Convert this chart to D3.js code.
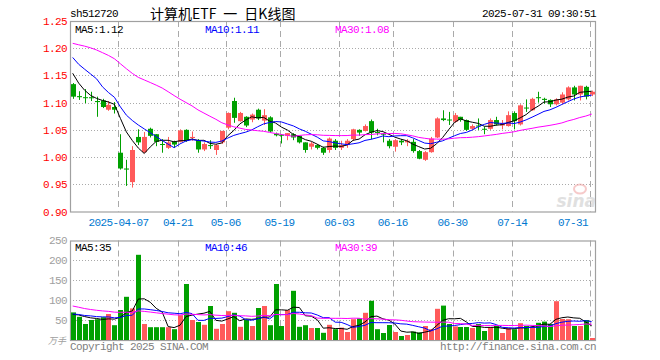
<!DOCTYPE html>
<html><head><meta charset="utf-8">
<script src="https://cdn.jsdelivr.net/npm/d3@7"></script>
<style>body{margin:0;background:#fff}svg{display:block}</style>
</head><body><svg id="c" width="660" height="360"></svg>
<script>
// ---------------- data ----------------
const dates = ["03-25","03-26","03-27","03-28","03-31","04-01","04-02","04-03","04-07","04-08",
"04-09","04-10","04-11","04-14","04-15","04-16","04-17","04-18","04-21","04-22",
"04-23","04-24","04-25","04-28","04-29","04-30","05-06","05-07","05-08","05-09",
"05-12","05-13","05-14","05-15","05-16","05-19","05-20","05-21","05-22","05-23",
"05-26","05-27","05-28","05-29","05-30","06-03","06-04","06-05","06-06","06-09",
"06-10","06-11","06-12","06-13","06-16","06-17","06-18","06-19","06-20","06-23",
"06-24","06-25","06-26","06-27","06-30","07-01","07-02","07-03","07-04","07-07",
"07-08","07-09","07-10","07-11","07-14","07-15","07-16","07-17","07-18","07-21",
"07-22","07-23","07-24","07-25","07-28","07-29","07-30","07-31"];
const open = [1.134,1.112,1.110,1.110,1.103,1.104,1.087,1.092,1.008,0.979,
0.954,1.037,1.009,1.052,1.042,1.024,1.017,1.028,1.028,1.050,
1.035,1.031,1.014,1.022,1.013,1.027,1.054,1.103,1.066,1.074,
1.069,1.087,1.067,1.073,1.043,1.041,1.039,1.042,1.039,1.027,
1.019,1.022,1.017,1.013,1.030,1.017,1.022,1.033,1.050,1.048,
1.066,1.046,1.043,1.030,1.019,1.030,1.027,1.028,1.011,0.995,
1.009,1.036,1.071,1.069,1.065,1.074,1.068,1.052,1.058,1.052,
1.052,1.068,1.058,1.057,1.081,1.060,1.091,1.086,1.110,1.107,
1.105,1.097,1.100,1.106,1.128,1.115,1.129,1.115];
const high = [1.136,1.121,1.125,1.120,1.111,1.107,1.103,1.101,1.042,0.995,
1.020,1.051,1.046,1.054,1.042,1.033,1.037,1.030,1.051,1.051,
1.047,1.033,1.027,1.031,1.024,1.048,1.082,1.109,1.083,1.075,
1.080,1.089,1.088,1.075,1.045,1.042,1.044,1.044,1.039,1.027,
1.028,1.024,1.019,1.036,1.033,1.030,1.033,1.052,1.051,1.060,
1.069,1.052,1.044,1.033,1.033,1.033,1.033,1.033,1.013,1.011,
1.037,1.073,1.086,1.083,1.081,1.074,1.069,1.060,1.071,1.056,
1.071,1.074,1.068,1.084,1.084,1.097,1.106,1.109,1.120,1.109,
1.106,1.108,1.119,1.130,1.131,1.131,1.131,1.122];
const low = [1.107,1.105,1.099,1.103,1.074,1.090,1.085,1.080,0.977,0.947,
0.944,1.022,1.007,1.036,1.020,1.008,1.015,1.017,1.027,1.028,
1.030,1.008,1.011,1.015,1.004,1.024,1.051,1.063,1.065,1.055,
1.064,1.068,1.059,1.045,1.038,1.025,1.031,1.031,1.025,1.008,
1.014,1.014,1.004,1.008,1.013,1.013,1.017,1.030,1.039,1.047,
1.033,1.040,1.027,1.016,1.010,1.022,1.020,1.008,0.996,0.993,
1.008,1.035,1.066,1.059,1.063,1.065,1.048,1.050,1.050,1.042,
1.050,1.058,1.051,1.056,1.051,1.058,1.083,1.085,1.100,1.098,
1.092,1.095,1.097,1.104,1.104,1.104,1.106,1.112];
const close = [1.111,1.110,1.109,1.108,1.101,1.092,1.096,1.087,0.979,0.977,
1.013,1.027,1.037,1.039,1.028,1.023,1.027,1.023,1.049,1.030,
1.037,1.014,1.024,1.021,1.022,1.048,1.081,1.072,1.081,1.058,
1.078,1.071,1.077,1.047,1.040,1.040,1.044,1.036,1.027,1.013,
1.025,1.017,1.008,1.034,1.017,1.022,1.030,1.051,1.045,1.057,
1.045,1.045,1.042,1.020,1.031,1.027,1.030,1.011,0.997,1.009,
1.034,1.071,1.068,1.068,1.077,1.068,1.050,1.057,1.057,1.051,
1.068,1.060,1.062,1.077,1.066,1.095,1.090,1.107,1.109,1.105,
1.097,1.106,1.115,1.128,1.115,1.131,1.111,1.120];
// volume, 万手
const volume = [69,58,40,50,52,57,65,37,75,108,
79,213,40,32,32,32,32,27,62,140,
50,45,38,85,28,40,72,68,33,50,
35,80,85,37,140,35,75,123,33,37,
30,30,18,38,27,31,20,52,54,68,
98,27,17.5,37.5,20,10,12.5,21,19,35,
27,78,86,40,34,32.5,32.5,30,40,22.5,
32.5,35,17.5,30,27,42,35,32.5,43,46,
40,97,52.5,52,35,35,50,5];
// sessions before the visible window (estimated from where the MA lines start)
const priorClose = [1.190,1.185,1.200,1.220,1.240,1.250,1.270,1.255,1.250,1.270,
1.245,1.180,1.180,1.175,1.180,1.230,1.235,1.250,1.215,1.220,
1.235,1.200,1.195,1.190,1.240,1.200,1.175,1.155,1.129];
const priorVolume = [150,140,120,110,105,100,95,90,100,95,
90,85,80,90,85,80,75,80,65,65,
70,65,60,70,65,65,60,66,60];
const priceTicks = [1.25,1.20,1.15,1.10,1.05,1.00,0.95,0.90];
const volTicks = [250,200,150,100,50];
const axisDates = ["04-07","04-21","05-06","05-19","06-03","06-16","06-30","07-14","07-31"];
const axisLabels = ["2025-04-07","04-21","05-06","05-19","06-03","06-16","06-30","07-14","07-31"];
const maPeriods = [5,10,30];
const maColors = ["#000000","#0000ff","#ff00ff"];

// ---------------- chart ----------------
const svg = d3.select("#c");
const mono = "'Liberation Mono','DejaVu Sans Mono',monospace";
const L = 70, R = 595;
const x = d3.scaleBand().domain(dates).range([69.7, 594.7]).padding(0);
const xc = d => x(d) + x.bandwidth()/2;
const y = d3.scaleLinear().domain([0.90,1.25]).range([211.5,21]);
const yv = d3.scaleLinear().domain([0,250]).range([340,240]);
const RED = "#ff5a5a", GREEN = "#00a000";

function ma(series, prior, n){
  const all = prior.concat(series), off = prior.length;
  return series.map((_,i)=>d3.mean(all.slice(i+off-n+1, i+off+1)));
}
function t(xp, yp, s, fill, size, anchor, fam){
  return svg.append("text").attr("x",xp).attr("y",yp).text(s)
    .attr("fill",fill).attr("font-size",size).attr("font-family",fam||mono)
    .attr("text-anchor",anchor||"start");
}

// header
t(70,17,"sh512720","#000",11).attr("letter-spacing","-0.6");
t(150,19,"计算机ETF\u2002一\u2002日K线图","#000",14,"start","'Noto Sans CJK SC',sans-serif");
t(596,17,"2025-07-31 09:30:51","#000",11,"end").attr("letter-spacing","-0.6");

// grids
function grid(top, bottom, hVals, yscale){
  const g = svg.append("g");
  g.selectAll("line.h").data(hVals).join("line")
    .attr("x1",L).attr("x2",R).attr("y1",d=>Math.round(yscale(d))+0.5).attr("y2",d=>Math.round(yscale(d))+0.5)
    .attr("stroke","#aaa").attr("stroke-dasharray","1,2");
  g.selectAll("line.v").data(axisDates).join("line")
    .attr("x1",d=>Math.round(x(d)+1)+0.5).attr("x2",d=>Math.round(x(d)+1)+0.5)
    .attr("y1",top).attr("y2",bottom)
    .attr("stroke","#aaa").attr("stroke-dasharray","6,4");
  g.append("rect").attr("x",L+0.5).attr("y",top+0.5).attr("width",R-L).attr("height",bottom-top)
    .attr("fill","none").attr("stroke","#a0a0a0").attr("stroke-width",1.2);
}
grid(21, 211.5, priceTicks.slice(1,-1), y);
grid(240.5, 340, volTicks.slice(1), yv);

// watermark
const wm = svg.append("g").attr("opacity",0.55);
wm.append("ellipse").attr("cx",580).attr("cy",189).attr("rx",6).attr("ry",4.5).attr("fill","none").attr("stroke","#f0a0a0").attr("stroke-width",2);
wm.append("text").attr("x",596).attr("y",207).attr("text-anchor","end").attr("font-size",17).attr("font-style","italic").attr("font-weight","bold").attr("font-family","'DejaVu Sans',sans-serif").attr("fill","#c8c8c8").text("sina");

// price axis labels
const ya = svg.append("g").attr("transform",`translate(${L},0)`)
  .call(d3.axisLeft(y).tickValues(priceTicks).tickFormat(d3.format(".2f")).tickSize(0).tickPadding(3));
ya.select(".domain").remove();
ya.selectAll("text").attr("fill","#ff0000").attr("font-family",mono).attr("font-size",11).attr("letter-spacing","-0.6");

// volume axis labels
const va = svg.append("g").attr("transform",`translate(${L},0)`)
  .call(d3.axisLeft(yv).tickValues(volTicks).tickFormat(d3.format("d")).tickSize(0).tickPadding(3));
va.select(".domain").remove();
va.selectAll("text").attr("fill","#a0a0a0").attr("font-family",mono).attr("font-size",11).attr("letter-spacing","-0.6");
t(66,344,"万手","#a0a0a0",9,"end","'Noto Sans CJK SC',sans-serif").attr("font-style","italic");

// x labels
axisDates.forEach((d,k)=>{
  const gx = x(d)+1;
  const w = axisLabels[k].length*6;
  if (gx + w/2 > R-4) t(R-7,226,axisLabels[k],"#0078d0",11,"end").attr("letter-spacing","-0.6");
  else t(gx,226,axisLabels[k],"#0078d0",11,"middle").attr("letter-spacing","-0.6");
});

// candles
const idx = d3.range(dates.length);
const cg = svg.append("g");
cg.selectAll("line").data(idx).join("line")
  .attr("x1",i=>Math.round(xc(dates[i]))+0.5).attr("x2",i=>Math.round(xc(dates[i]))+0.5)
  .attr("y1",i=>y(high[i])).attr("y2",i=>y(low[i]))
  .attr("stroke",i=>close[i]>=open[i]?RED:GREEN).attr("stroke-width",1);
cg.selectAll("rect").data(idx).join("rect")
  .attr("x",i=>Math.round(xc(dates[i]))-2).attr("width",5)
  .attr("y",i=>Math.min(y(open[i]),y(close[i])))
  .attr("height",i=>Math.max(1,Math.abs(y(open[i])-y(close[i]))))
  .attr("fill",i=>close[i]>=open[i]?RED:GREEN);

// volume bars
svg.append("g").selectAll("rect").data(idx).join("rect")
  .attr("x",i=>Math.round(xc(dates[i]))-2).attr("width",5)
  .attr("y",i=>yv(volume[i])).attr("height",i=>yv(0)-yv(volume[i]))
  .attr("fill",i=>close[i]>=open[i]?RED:GREEN);

// MA lines
maPeriods.forEach((n,k)=>{
  const pm = ma(close, priorClose, n);
  const vm = ma(volume, priorVolume, n);
  svg.append("path").datum(pm).attr("fill","none").attr("stroke",maColors[k]).attr("stroke-width",1)
    .attr("d",d3.line().x((d,i)=>xc(dates[i])).y(d=>y(d)));
  svg.append("path").datum(vm).attr("fill","none").attr("stroke",maColors[k]).attr("stroke-width",1)
    .attr("d",d3.line().x((d,i)=>xc(dates[i])).y(d=>yv(d)));
  const xs = [75,205,335][k];
  t(xs,33,`MA${n}:${d3.format(".2f")(pm[pm.length-1])}`,maColors[k],11).attr("letter-spacing","-0.6");
  t(xs,251,`MA${n}:${Math.round(vm[vm.length-1])}`,maColors[k],11).attr("letter-spacing","-0.6");
});

// footer
t(70,350,"Copyright 2025 SINA.COM","#808080",11).attr("letter-spacing","-0.6");
t(596,350,"http://finance.sina.com.cn","#808080",11,"end").attr("letter-spacing","-0.6");
</script>
</body></html>
